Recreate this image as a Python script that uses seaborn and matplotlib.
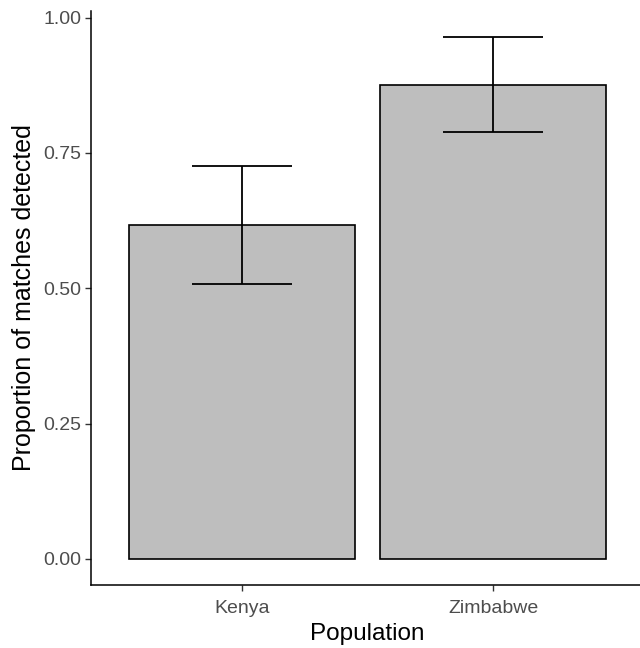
import numpy as np
import pandas as pd
import matplotlib
matplotlib.use("Agg")
import matplotlib.pyplot as plt
import seaborn as sns

# values
populations = ["Kenya", "Zimbabwe"]
proportion = [0.617, 0.876]
ci_low = [0.508, 0.789]
ci_high = [0.726, 0.964]

df = pd.DataFrame({"Population": populations, "prop": proportion,
                   "lo": ci_low, "hi": ci_high})

sns.set_style("white")
plt.rcParams['font.family'] = ['Liberation Sans', 'DejaVu Sans']

fig = plt.figure(figsize=(6.4, 6.48), dpi=100)
ax = fig.add_axes([91/640, 1 - 585/648, 553/640, (585 - 11)/648])

sns.barplot(data=df, x="Population", y="prop", color="#BEBEBE",
            saturation=1, width=0.9, edgecolor="black", linewidth=1.2,
            errorbar=None, ax=ax)

xs = np.arange(len(populations))
ax.errorbar(xs, df["prop"], yerr=[df["prop"] - df["lo"], df["hi"] - df["prop"]],
            fmt="none", ecolor="black", elinewidth=1.3, capsize=36, capthick=1.3)

ax.set_xlim(-0.6, 1.6)
ax.set_ylim(-0.0482, 1.0122)
ax.set_yticks([0, 0.25, 0.5, 0.75, 1.0])
ax.set_yticklabels(["0.00", "0.25", "0.50", "0.75", "1.00"])

for side in ["top", "right"]:
    ax.spines[side].set_visible(False)
for side in ["left", "bottom"]:
    ax.spines[side].set_color("black")
    ax.spines[side].set_linewidth(1.1)

ax.tick_params(axis="both", which="major", length=4, width=1, color="#333333",
               labelsize=14, labelcolor="#4D4D4D", left=True, bottom=True)
ax.tick_params(axis="x", pad=7)
ax.tick_params(axis="y", pad=3)

ax.set_xlabel("Population", fontsize=17.5, color="black", labelpad=4)
ax.set_ylabel("Proportion of matches detected", fontsize=18, color="black", labelpad=5)

fig.savefig("out.png", dpi=100)
